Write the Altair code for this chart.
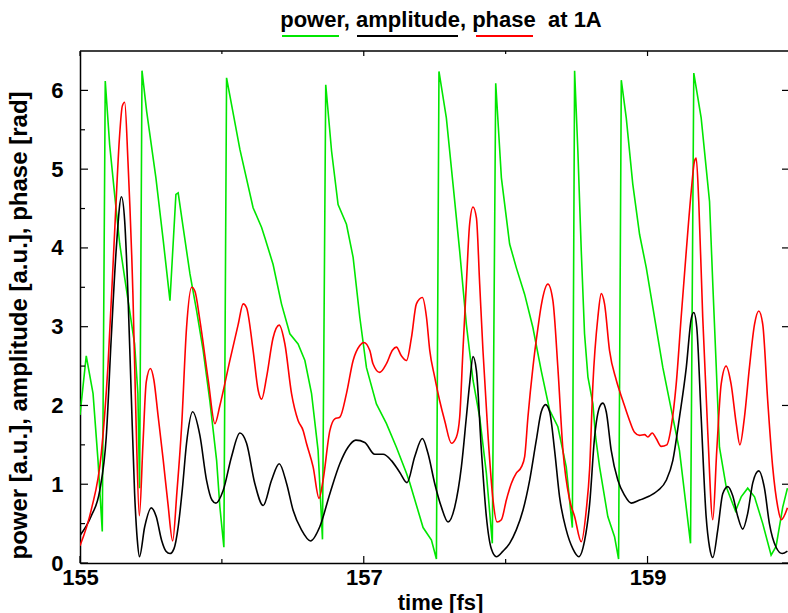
import altair as alt
import pandas as pd

# ---------------- data ----------------
power_t = [155.000, 155.044, 155.092, 155.127, 155.157, 155.178, 155.209, 155.244, 155.280, 155.315,
           155.350, 155.385, 155.408, 155.420, 155.437, 155.470, 155.535, 155.587, 155.634, 155.676,
           155.692, 155.727, 155.775, 155.822, 155.868, 155.915, 155.963, 155.986, 156.014, 156.033,
           156.127, 156.220, 156.280, 156.303, 156.361, 156.420, 156.479, 156.537, 156.585, 156.632,
           156.678, 156.709, 156.732, 156.773, 156.819, 156.878, 156.925, 156.972, 157.019, 157.089,
           157.160, 157.230, 157.301, 157.324, 157.418, 157.477, 157.512, 157.530, 157.582, 157.629,
           157.676, 157.723, 157.770, 157.817, 157.864, 157.906, 157.930, 157.970, 158.028, 158.075,
           158.134, 158.192, 158.251, 158.310, 158.368, 158.427, 158.470, 158.486, 158.509, 158.533,
           158.556, 158.580, 158.615, 158.634, 158.662, 158.720, 158.768, 158.796, 158.815, 158.850,
           158.896, 158.944, 158.991, 159.108, 159.225, 159.303, 159.326, 159.378, 159.437, 159.460,
           159.484, 159.507, 159.554, 159.620, 159.660, 159.706, 159.754, 159.812, 159.871, 159.906,
           159.953, 159.986]
power_v = [1.88, 2.63, 2.15, 1.30, 0.40, 6.12, 5.31, 4.68, 4.05, 3.62,
           3.20, 2.78, 2.15, 0.95, 6.25, 5.73, 4.89, 4.09, 3.33, 4.68,
           4.70, 4.26, 3.67, 3.20, 2.70, 2.06, 1.30, 0.71, 0.20, 6.16,
           5.25, 4.51, 4.26, 4.13, 3.79, 3.29, 2.91, 2.78, 2.57, 2.15,
           1.43, 0.30, 6.07, 5.23, 4.55, 4.30, 3.88, 3.12, 2.48, 2.02,
           1.77, 1.47, 1.14, 1.02, 0.45, 0.29, 0.05, 6.24, 5.65, 4.81,
           3.96, 3.03, 2.32, 1.85, 1.14, 0.25, 6.09, 4.89, 4.05, 3.75,
           3.41, 2.99, 2.44, 1.94, 1.73, 1.22, 0.45, 6.25, 5.23, 3.96,
           2.91, 2.36, 2.02, 1.60, 1.22, 0.59, 0.33, 0.05, 6.13, 5.65,
           4.81, 4.17, 3.75, 2.48, 1.43, 0.25, 6.22, 5.65, 4.59, 3.54,
           2.50, 1.47, 0.97, 0.66, 0.84, 0.95, 0.84, 0.50, 0.10, 0.21,
           0.71, 0.95]

amp_t = [155.000, 155.080, 155.139, 155.185, 155.220, 155.256, 155.292, 155.315, 155.338, 155.361,
         155.385, 155.404, 155.419, 155.456, 155.502, 155.537, 155.575, 155.606, 155.634, 155.662,
         155.692, 155.722, 155.751, 155.794, 155.845, 155.892, 155.930, 155.958, 156.009, 156.068,
         156.127, 156.174, 156.232, 156.291, 156.350, 156.404, 156.456, 156.502, 156.561, 156.625,
         156.690, 156.761, 156.831, 156.889, 156.944, 157.007, 157.077, 157.136, 157.195, 157.254,
         157.305, 157.359, 157.413, 157.453, 157.500, 157.547, 157.594, 157.641, 157.688, 157.723,
         157.746, 157.770, 157.794, 157.829, 157.864, 157.899, 157.935, 157.981, 158.028, 158.075,
         158.122, 158.169, 158.216, 158.251, 158.282, 158.310, 158.345, 158.380, 158.427, 158.474,
         158.516, 158.556, 158.592, 158.627, 158.662, 158.685, 158.709, 158.744, 158.791, 158.838,
         158.885, 158.944, 159.014, 159.073, 159.132, 159.178, 159.225, 159.273, 159.308, 159.326,
         159.347, 159.378, 159.413, 159.437, 159.460, 159.495, 159.530, 159.566, 159.601, 159.636,
         159.671, 159.706, 159.742, 159.784, 159.824, 159.859, 159.906, 159.949, 159.986]
amp_v = [0.35, 0.60, 0.92, 1.60, 2.85, 4.00, 4.65, 4.34, 3.41, 2.15,
         0.88, 0.29, 0.08, 0.46, 0.70, 0.59, 0.29, 0.15, 0.12, 0.18,
         0.46, 0.95, 1.52, 1.92, 1.62, 1.05, 0.80, 0.76, 0.92, 1.35,
         1.65, 1.52, 1.01, 0.73, 1.05, 1.26, 1.01, 0.67, 0.42, 0.28,
         0.46, 0.88, 1.26, 1.47, 1.56, 1.53, 1.38, 1.38, 1.30, 1.15,
         1.02, 1.35, 1.58, 1.39, 1.01, 0.71, 0.52, 0.71, 1.22, 1.85,
         2.27, 2.62, 2.44, 1.43, 0.59, 0.18, 0.08, 0.15, 0.25, 0.42,
         0.67, 1.05, 1.56, 1.92, 2.01, 1.92, 1.43, 0.84, 0.42, 0.18,
         0.08, 0.28, 0.75, 1.60, 1.98, 2.03, 1.92, 1.43, 1.05, 0.86,
         0.76, 0.80, 0.85, 0.92, 1.05, 1.30, 1.85, 2.48, 3.10, 3.18,
         2.99, 1.85, 0.59, 0.20, 0.07, 0.42, 0.88, 0.97, 0.85, 0.59,
         0.43, 0.63, 1.02, 1.17, 0.95, 0.50, 0.20, 0.12, 0.15]

phase_t = [155.000, 155.080, 155.150, 155.197, 155.244, 155.280, 155.298, 155.315, 155.338, 155.373,
           155.396, 155.418, 155.444, 155.467, 155.496, 155.521, 155.549, 155.587, 155.620, 155.653,
           155.683, 155.716, 155.751, 155.787, 155.810, 155.845, 155.904, 155.951, 155.986, 156.056,
           156.115, 156.150, 156.174, 156.220, 156.256, 156.280, 156.315, 156.361, 156.404, 156.444,
           156.491, 156.537, 156.573, 156.596, 156.643, 156.685, 156.713, 156.761, 156.796, 156.831,
           156.878, 156.925, 156.972, 157.000, 157.042, 157.065, 157.113, 157.160, 157.202, 157.230,
           157.265, 157.301, 157.336, 157.371, 157.413, 157.442, 157.465, 157.500, 157.535, 157.570,
           157.618, 157.653, 157.676, 157.699, 157.723, 157.746, 157.770, 157.794, 157.817, 157.840,
           157.875, 157.911, 157.939, 157.970, 158.005, 158.040, 158.075, 158.111, 158.134, 158.157,
           158.192, 158.228, 158.251, 158.298, 158.333, 158.368, 158.404, 158.451, 158.486, 158.533,
           158.568, 158.592, 158.615, 158.650, 158.674, 158.697, 158.732, 158.780, 158.826, 158.873,
           158.908, 158.944, 158.979, 159.002, 159.033, 159.061, 159.096, 159.136, 159.167, 159.202,
           159.237, 159.273, 159.308, 159.331, 159.343, 159.361, 159.389, 159.425, 159.460, 159.488,
           159.519, 159.554, 159.589, 159.625, 159.651, 159.683, 159.718, 159.754, 159.784, 159.812,
           159.847, 159.882, 159.918, 159.942, 159.986]
phase_v = [0.22, 0.68, 1.39, 2.50, 4.20, 5.45, 5.80, 5.85, 5.10, 3.41,
           1.73, 0.60, 1.52, 2.30, 2.47, 2.32, 1.89, 1.30, 0.75, 0.28,
           0.90, 1.73, 2.99, 3.50, 3.45, 3.08, 2.32, 1.77, 2.00, 2.57,
           3.03, 3.29, 3.24, 2.70, 2.19, 2.08, 2.36, 2.86, 3.02, 2.78,
           2.15, 1.81, 1.68, 1.52, 1.22, 0.82, 1.05, 1.68, 1.83, 1.85,
           2.15, 2.57, 2.76, 2.80, 2.70, 2.53, 2.42, 2.53, 2.70, 2.74,
           2.63, 2.57, 2.86, 3.29, 3.37, 3.12, 2.70, 2.36, 2.06, 1.81,
           1.52, 1.60, 1.85, 2.70, 3.54, 4.30, 4.52, 4.38, 3.54, 2.70,
           1.64, 0.80, 0.52, 0.55, 0.80, 1.01, 1.14, 1.22, 1.35, 1.85,
           2.48, 2.99, 3.27, 3.54, 3.33, 2.48, 1.43, 0.80, 0.59, 0.27,
           0.67, 1.20, 2.27, 3.12, 3.42, 3.29, 2.70, 2.32, 2.06, 1.81,
           1.66, 1.62, 1.63, 1.60, 1.65, 1.58, 1.48, 1.50, 1.73, 2.27,
           3.12, 3.96, 4.72, 5.10, 5.14, 4.59, 3.12, 1.64, 0.55, 1.43,
           2.27, 2.50, 2.27, 1.77, 1.50, 1.85, 2.48, 3.03, 3.20, 3.03,
           2.06, 1.22, 0.71, 0.55, 0.70]

x_major = [155, 157, 159]
x_minor = [156, 158]
y_major = [0, 1, 2, 3, 4, 5, 6]
y_minor = [0.5, 1.5, 2.5, 3.5, 4.5, 5.5]

TITLE = "power, amplitude, phase\u00a0\u00a0at 1A"
X_TITLE = "time [fs]"
Y_TITLE = "power [a.u.], amplitude [a.u.], phase [rad]"

GREEN = "#00e600"
BLACK = "#000000"
RED = "#ff0000"
FONT = "Liberation Sans"

W, H = 708, 512

# ---------------- chart ----------------
xscale = alt.Scale(domain=[155, 159.99], nice=False, zero=False)
yscale = alt.Scale(domain=[0, 6.5], nice=False, zero=True)

xaxis = alt.Axis(values=x_major, format="d", ticks=False, grid=False,
                 domainColor="black", domainWidth=1.5, labelFlush=False,
                 labelFont=FONT, labelFontSize=22, labelFontWeight="bold",
                 labelColor="black", labelPadding=4,
                 titleFont=FONT, titleFontSize=22, titleFontWeight="bold",
                 titleColor="black", titleX=360, titleY=46,
                 titleAlign="center", titleBaseline="alphabetic")
yaxis = alt.Axis(values=y_major, format="d", ticks=False, grid=False,
                 domainColor="black", domainWidth=1.5, labelFlush=False,
                 labelFont=FONT, labelFontSize=22, labelFontWeight="bold",
                 labelColor="black", labelPadding=17,
                 titleFont=FONT, titleFontSize=24, titleFontWeight="bold",
                 titleColor="black", titleAngle=270, titleX=-54, titleY=274,
                 titleAlign="center", titleBaseline="alphabetic")

X_ENC = dict(field="time", type="quantitative", scale=xscale, axis=xaxis, title=X_TITLE)
Y_ENC = dict(field="value", type="quantitative", scale=yscale, axis=yaxis, title=Y_TITLE)


def series_layer(ts, vs, color, interp):
    df = pd.DataFrame({"time": ts, "value": vs})
    return alt.Chart(df).mark_line(color=color, strokeWidth=1.6, clip=True,
                                   interpolate=interp).encode(
        x=alt.X(**X_ENC), y=alt.Y(**Y_ENC))


lines = [series_layer(power_t, power_v, GREEN, "linear"),
         series_layer(amp_t, amp_v, BLACK, "monotone"),
         series_layer(phase_t, phase_v, RED, "monotone")]


def xticks(vals, length, top):
    df = pd.DataFrame({"time": vals})
    if top:
        y1, y2 = 0, length
    else:
        y1, y2 = H, H - length
    return alt.Chart(df).mark_rule(color="black", strokeWidth=1.2).encode(
        x=alt.X(**X_ENC), y=alt.value(y1), y2=alt.value(y2))


def yticks(vals, length, right):
    df = pd.DataFrame({"value": vals})
    if right:
        x1, x2 = W, W - length
    else:
        x1, x2 = 0, length
    return alt.Chart(df).mark_rule(color="black", strokeWidth=1.2).encode(
        y=alt.Y(**Y_ENC), x=alt.value(x1), x2=alt.value(x2))


ticks = [xticks(x_major, 7, False), xticks(x_minor, 4, False),
         xticks(x_major, 5, True), xticks(x_minor, 3, True),
         yticks(y_major, 8, False), yticks(y_minor, 5, False),
         yticks(y_major, 6, True)]

one = pd.DataFrame({"s": [TITLE]})
top_frame = alt.Chart(one).mark_rule(color="black", strokeWidth=1.5).encode(
    x=alt.value(0), x2=alt.value(W), y=alt.value(0))

title = alt.Chart(one).mark_text(font=FONT, fontSize=22, fontWeight="bold",
                                 align="center", baseline="alphabetic",
                                 color="black").encode(
    x=alt.value(361), y=alt.value(-24), text="s:N")


def key_rule(x1, x2, color):
    return alt.Chart(one).mark_rule(color=color, strokeWidth=2).encode(
        x=alt.value(x1), x2=alt.value(x2), y=alt.value(-15))


keys = [key_rule(202, 259, GREEN), key_rule(277, 378, BLACK), key_rule(396, 453, RED)]

chart = alt.layer(*lines, *ticks, top_frame, title, *keys).properties(
    width=W, height=H,
    autosize=alt.AutoSizeParams(type="none"),
    padding={"left": 80, "top": 51, "right": 0, "bottom": 50},
    background="white",
).configure_view(stroke=None)

chart.save("out.html", embed_options={"renderer": "svg", "actions": False})
